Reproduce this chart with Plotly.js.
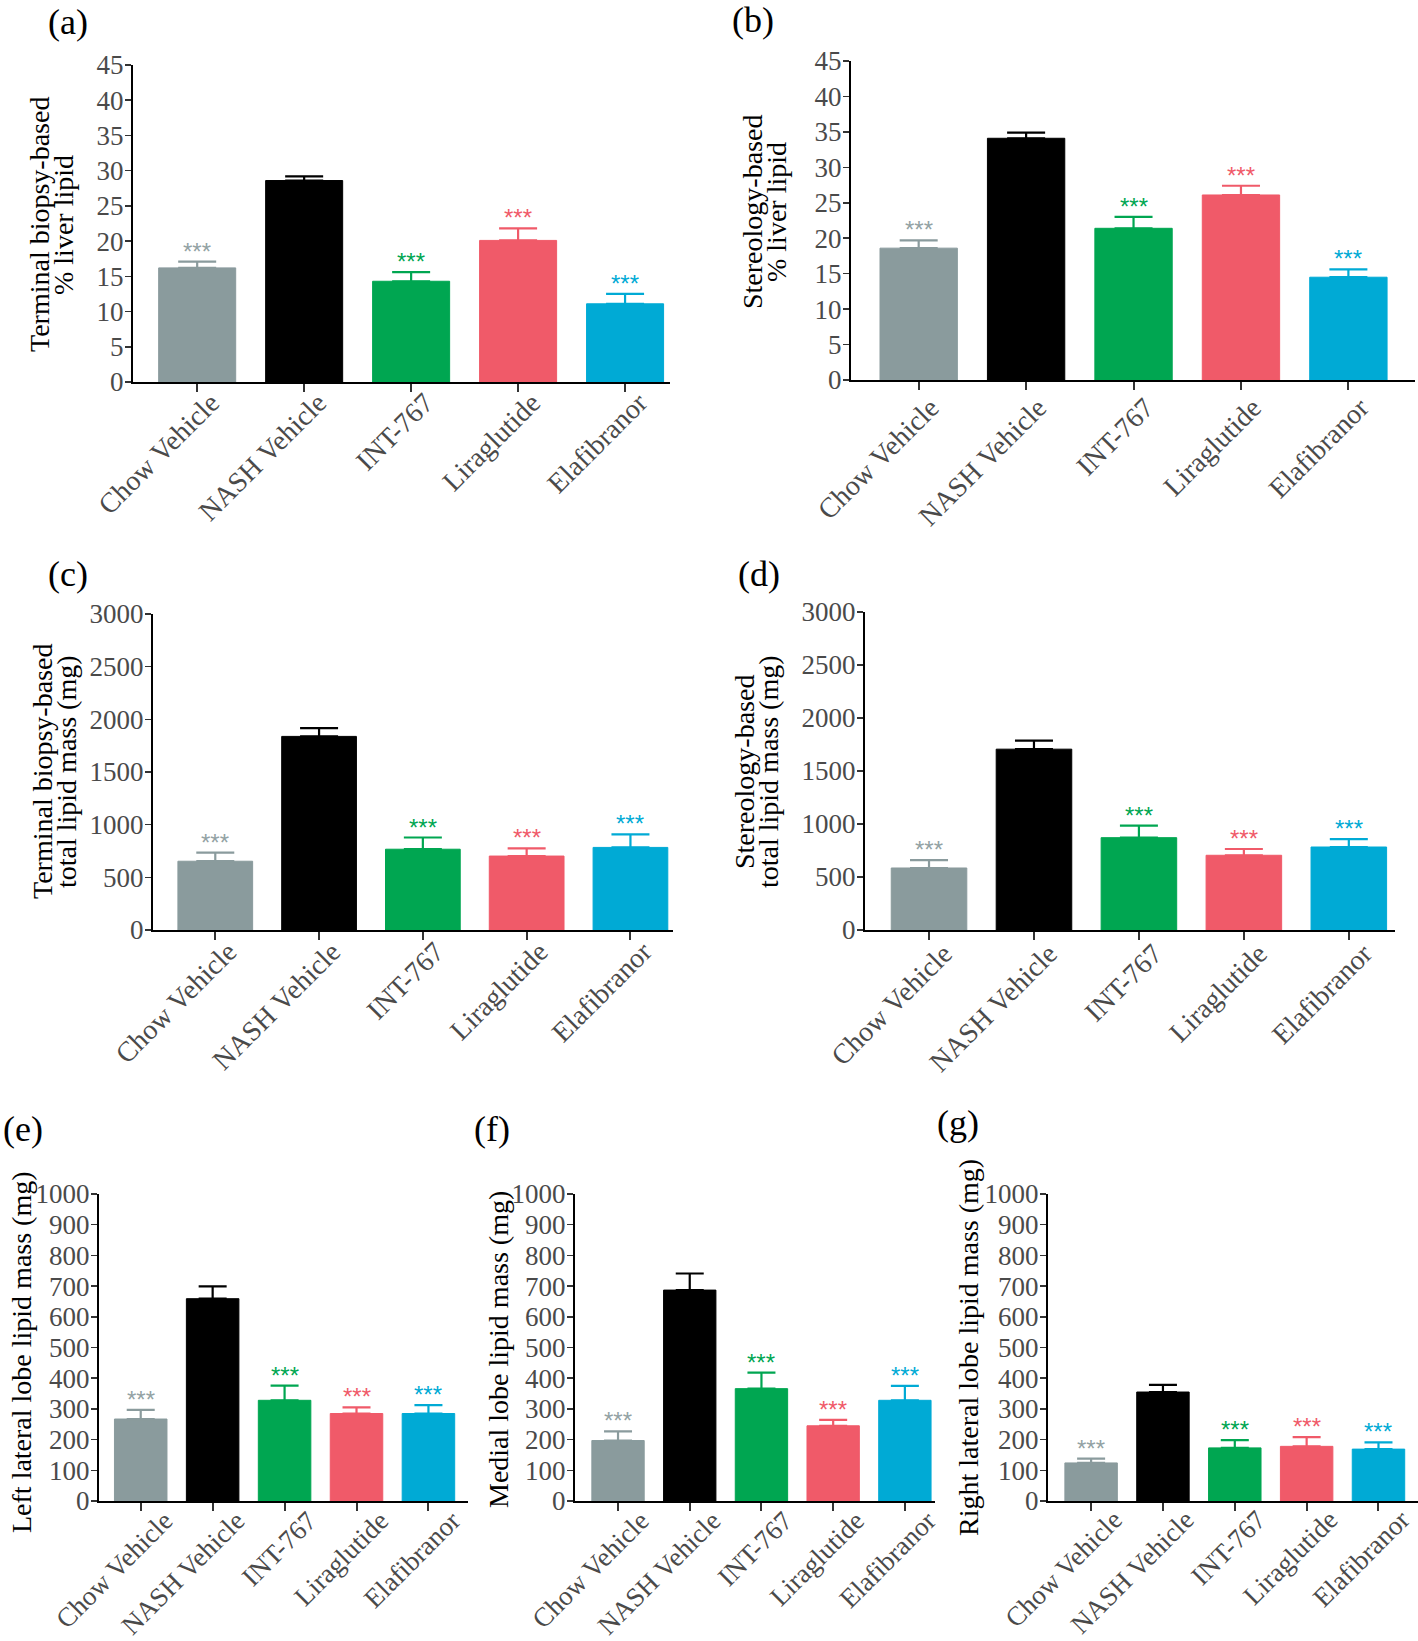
<!DOCTYPE html>
<html><head><meta charset="utf-8">
<script src="https://cdn.plot.ly/plotly-3.0.1.min.js"></script>
<style>body{margin:0;background:#fff}#chart{width:1418px;height:1641px}</style>
</head><body><div id="chart"></div>
<script>
const categories = ["Chow Vehicle","NASH Vehicle","INT-767","Liraglutide","Elafibranor"];
const barColors = ["#8a9b9d","#000000","#00a651","#f05a69","#00aad5"];
const starColors = ["#93a2a4","#000000","#00a651","#f05a69","#00aad5"];
const stars = ["***","","***","***","***"];

// mean values and upper SEM per panel
const aMean = [16.2, 28.6, 14.3, 20.1, 11.1];
const aSem  = [0.9, 0.6, 1.3, 1.7, 1.4];
const bMean = [18.6, 34.1, 21.4, 26.1, 14.5];
const bSem  = [1.1, 0.8, 1.6, 1.3, 1.1];
const cMean = [653, 1838, 767, 702, 784];
const cSem  = [82, 78, 111, 72, 124];
const dMean = [585, 1706, 871, 705, 783];
const dSem  = [75, 81, 114, 59, 75];
const eMean = [267, 659, 328, 285, 285];
const eSem  = [30, 40, 48, 20, 27];
const fMean = [197, 687, 366, 245, 328];
const fSem  = [30, 54, 52, 19, 47];
const gMean = [124, 355, 173, 178, 169];
const gSem  = [14, 23, 25, 30, 22];

const yTitles = [
  ["Terminal biopsy-based", "% liver lipid"],
  ["Stereology-based", "% liver lipid"],
  ["Terminal biopsy-based", "total lipid mass (mg)"],
  ["Stereology-based", "total lipid mass (mg)"],
  ["Left lateral lobe lipid mass (mg)"],
  ["Medial lobe lipid mass (mg)"],
  ["Right lateral lobe lipid mass (mg)"]
];
const panelLabels = ["(a)","(b)","(c)","(d)","(e)","(f)","(g)"];

const W = 1418, H = 1641;
const SERIF = "Liberation Serif, Times New Roman, serif";

const panels = [
  {mean:aMean, sem:aSem, x0:133, x1:670, yt:65,  yb:382, ymax:45,   dtick:5,   xr:[-0.6,4.42], lab:[68,22],  tit:[52,225],  cap:19, bw:0.72, ls:14, lo:-17, xf:28},
  {mean:bMean, sem:bSem, x0:851, x1:1415,yt:61,  yb:380, ymax:45,   dtick:5,   xr:[-0.63,4.62],lab:[753,20], tit:[764,212], cap:19, bw:0.72, ls:12, lo:-10, xf:28},
  {mean:cMean, sem:cSem, x0:153, x1:673, yt:614, yb:930, ymax:3000, dtick:500, xr:[-0.6,4.41], lab:[68,574], tit:[54,772],  cap:19, bw:0.72, ls:13, lo:-16, xf:28},
  {mean:dMean, sem:dSem, x0:865, x1:1395,yt:612, yb:930, ymax:3000, dtick:500, xr:[-0.61,4.44],lab:[759,574],tit:[756,772], cap:19, bw:0.72, ls:15, lo:-14, xf:28},
  {mean:eMean, sem:eSem, x0:99,  x1:468, yt:1194,yb:1501,ymax:1000, dtick:100, xr:[-0.58,4.55],lab:[23,1129], tit:[21,1352], cap:14, bw:0.73, ls:24, lo:-17, xf:27},
  {mean:fMean, sem:fSem, x0:575, x1:935, yt:1194,yb:1501,ymax:1000, dtick:100, xr:[-0.6,4.42], lab:[492,1129],tit:[498,1350], cap:14, bw:0.73, ls:23, lo:-17, xf:27},
  {mean:gMean, sem:gSem, x0:1048,x1:1418,yt:1194,yb:1501,ymax:1000, dtick:100, xr:[-0.6,4.55], lab:[958,1123],tit:[968,1348], cap:14, bw:0.73, ls:23, lo:-18, xf:27}
];

const data = [];
const layout = {
  width: W, height: H, margin:{l:0,r:0,t:0,b:0},
  paper_bgcolor:"#fff", plot_bgcolor:"rgba(0,0,0,0)",
  showlegend:false,
  annotations: [], font:{family:SERIF}
};

panels.forEach((p, i) => {
  const n = i + 1;
  const xa = n === 1 ? "x" : "x" + n;
  const ya = n === 1 ? "y" : "y" + n;
  const xk = n === 1 ? "xaxis" : "xaxis" + n;
  const yk = n === 1 ? "yaxis" : "yaxis" + n;
  categories.forEach((c, k) => {
    data.push({
      type:"bar", x:[c], y:[p.mean[k]], xaxis:xa, yaxis:ya, width:p.bw,
      marker:{color:barColors[k], line:{color:barColors[k], width:1}},
      error_y:{type:"data", symmetric:false, array:[p.sem[k]], arrayminus:[0],
               color:barColors[k], thickness:2.2, width:p.cap},
      hoverinfo:"x+y"
    });
    if (stars[k]) {
      layout.annotations.push({
        xref:xa, yref:ya, x:c, y:p.mean[k] + p.sem[k], yanchor:"bottom", yshift:-5,
        text:stars[k], showarrow:false,
        font:{family:"Liberation Sans, Arial, sans-serif", size:24, color:starColors[k]}
      });
    }
  });
  layout[xk] = {
    domain:[p.x0 / W, p.x1 / W], anchor:ya, type:"category",
    categoryorder:"array", categoryarray:categories,
    range:p.xr, showline:true, linecolor:"#000", linewidth:2.2,
    ticks:"outside", ticklen:8, tickwidth:2, tickcolor:"#333",
    tickangle:-45, ticklabelshift:p.ls, ticklabelstandoff:p.lo,
    tickfont:{family:SERIF, size:p.xf, color:"#4a4a4a"},
    showgrid:false, zeroline:false, fixedrange:true
  };
  layout[yk] = {
    domain:[1 - p.yb / H, 1 - p.yt / H], anchor:xa,
    range:[0, p.ymax], dtick:p.dtick, tick0:0,
    showline:true, linecolor:"#000", linewidth:2.2,
    ticks:"outside", ticklen:6, tickwidth:1.5, tickcolor:"#333",
    ticklabelstandoff:-4,
    tickfont:{family:SERIF, size:27, color:"#4a4a4a"},
    showgrid:false, zeroline:false, fixedrange:true
  };
  layout.annotations.push({
    xref:"paper", yref:"paper", x:p.lab[0] / W, y:1 - p.lab[1] / H,
    xanchor:"center", yanchor:"middle", text:panelLabels[i], showarrow:false,
    font:{family:SERIF, size:36, color:"#000"}
  });
  const lines = yTitles[i];
  const gap = 24;
  lines.forEach((t, j) => {
    const off = (j - (lines.length - 1) / 2) * gap;
    layout.annotations.push({
      xref:"paper", yref:"paper", x:(p.tit[0] + off) / W, y:1 - p.tit[1] / H,
      xanchor:"center", yanchor:"middle", text:t, showarrow:false,
      textangle:-90, font:{family:SERIF, size:28, color:"#000"}
    });
  });
});

Plotly.newPlot("chart", data, layout, {staticPlot:true});
</script>
</body></html>
